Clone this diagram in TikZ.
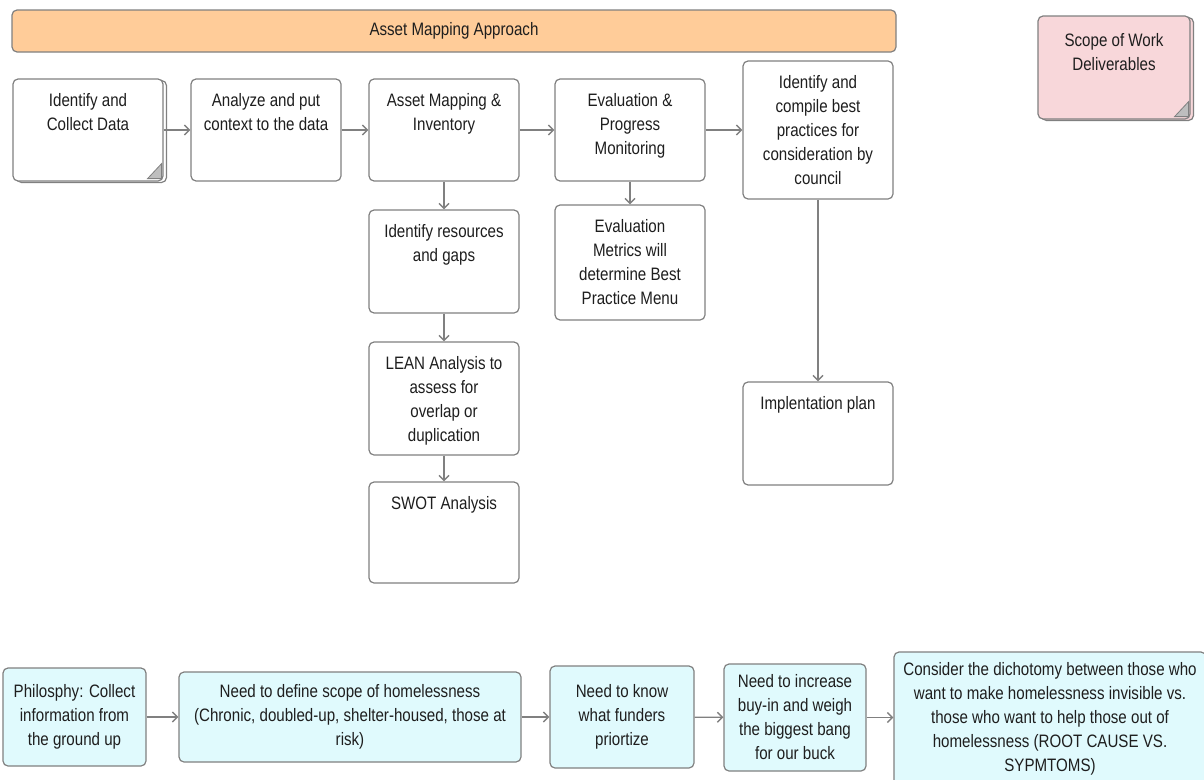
\documentclass[tikz,border=0pt]{standalone}
\usepackage{fontspec}
\setmainfont{Liberation Sans}[FakeStretch=0.84]
\usepackage{tikz}
\usetikzlibrary{shadows}
\usetikzlibrary{arrows.meta}
\definecolor{linegray}{RGB}{128,128,128}
\definecolor{foldgray}{RGB}{190,190,190}
\definecolor{textgray}{RGB}{30,30,30}
\definecolor{peach}{RGB}{255,204,153}
\definecolor{pinkfill}{RGB}{248,215,218}
\definecolor{cyanfill}{RGB}{224,250,253}

\begin{document}
\begin{tikzpicture}[x=1pt,y=-1pt,>={Straight Barb[length=5pt,width=10pt]},
  every node/.style={font=\fontsize{18}{24}\selectfont,text=textgray},
  box/.style={draw=linegray,line width=1.2pt,rounded corners=5pt,fill=white,minimum width=150pt,inner sep=0pt,align=center},
  lbl/.style={anchor=north,align=center,inner xsep=0pt,inner ysep=15pt},
  heading/.style={label={[lbl]north:{#1}}},
  pagestack/.style={copy shadow={shadow xshift=3.5pt,shadow yshift=-1.5pt,fill=#1,draw=linegray,line width=1.2pt}},
  idea/.style={box,fill=cyanfill},
  fold/.style={fill=foldgray,draw=linegray,line width=0.8pt},
  link/.style={draw=linegray,line width=1.4pt,->}]

\useasboundingbox (0,0) rectangle (1204,779);

\node[box,fill=peach,minimum width=884pt,minimum height=42pt] (approach) at (454,31) {Asset Mapping Approach};

\node[box,fill=pinkfill,minimum width=152pt,minimum height=103pt,pagestack=pinkfill,
  label={[lbl,inner ysep=18pt]north:Scope of Work\\Deliverables}] (deliverables) at (1114,67.5) {};
\filldraw[fold] ([shift={(-16pt,3pt)}]deliverables.south east) -- ([shift={(-2pt,18pt)}]deliverables.south east) -- ([shift={(-2pt,3pt)}]deliverables.south east) -- cycle;

% top row
\node[box,minimum height=102pt,pagestack=white,heading={Identify and\\Collect Data}] (collect) at (88,130) {};
\filldraw[fold] ([shift={(-16pt,3pt)}]collect.south east) -- ([shift={(-2pt,18pt)}]collect.south east) -- ([shift={(-2pt,3pt)}]collect.south east) -- cycle;
\node[box,minimum height=102pt,heading={Analyze and put\\context to the data}] (context) at (266,130) {};
\node[box,minimum height=102pt,heading={Asset Mapping \&\\Inventory}] (asset) at (444,130) {};
\node[box,minimum height=102pt,heading={Evaluation \&\\Progress\\Monitoring}] (evalp) at (630,130) {};
\node[box,minimum height=138pt,heading={Identify and\\compile best\\practices for\\consideration by\\council}] (best) at (818,130) {};

% columns
\node[box,minimum height=103pt,heading={Identify resources\\and gaps}] (resources) at (444,261.5) {};
\node[box,minimum height=113pt,heading={LEAN Analysis to\\assess for\\overlap or\\duplication}] (lean) at (444,398.5) {};
\node[box,minimum height=101pt,heading={SWOT Analysis}] (swot) at (444,532.5) {};
\node[box,minimum height=115pt,heading={Evaluation\\Metrics will\\determine Best\\Practice Menu}] (metrics) at (630,262.5) {};
\node[box,minimum height=103pt,heading={Implentation plan}] (impl) at (818,433.5) {};

\draw[link] (collect) -- (context);
\draw[link] (context) -- (asset);
\draw[link] (asset) -- (evalp);
\draw[link] (evalp) -- (best);
\draw[link] (asset) -- (resources);
\draw[link] (resources) -- (lean);
\draw[link] (lean) -- (swot);
\draw[link] (evalp) -- (metrics);
\draw[link] (best) -- (impl);

% bottom row
\node[idea,minimum width=143pt,minimum height=98pt] (ground) at (74.5,717) {Philosphy: Collect\\information from\\the ground up};
\node[idea,minimum width=342pt,minimum height=90pt] (define) at (350,717) {Need to define scope of homelessness\\(Chronic, doubled-up, shelter-housed, those at\\risk)};
\node[idea,minimum width=144pt,minimum height=102pt] (funders) at (622,717) {Need to know\\what funders\\priortize};
\node[idea,minimum width=142pt,minimum height=107pt] (buyin) at (795,717.5) {Need to increase\\buy-in and weigh\\the biggest bang\\for our buck};
\node[idea,minimum width=312pt,minimum height=140pt,
  label={[lbl,inner ysep=11pt]north:Consider the dichotomy between those who\\want to make homelessness invisible vs.\\those who want to help those out of\\homelessness (ROOT CAUSE VS.\\SYPMTOMS)}] (dichotomy) at (1050,722) {};

\draw[link] (ground) -- (define);
\draw[link] (define) -- (funders);
\draw[link] (funders) -- (buyin);
\draw[link] (buyin) -- (buyin -| dichotomy.west);
\end{tikzpicture}
\end{document}
